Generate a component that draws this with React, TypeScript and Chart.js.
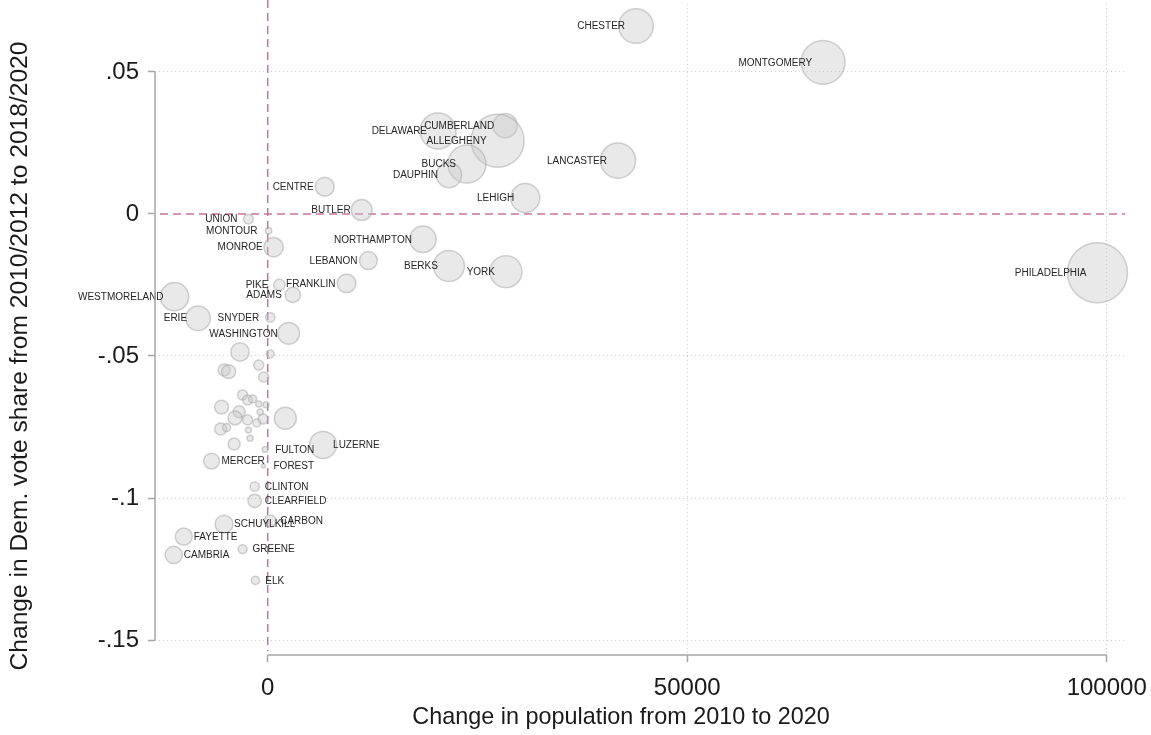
import React, { useEffect, useRef } from "react";
import { Chart, registerables } from "chart.js";

Chart.register(...registerables);

// ---- data ----
const counties = [
  "CHESTER", "MONTGOMERY", "DELAWARE", "CUMBERLAND", "ALLEGHENY", "BUCKS", "DAUPHIN",
  "LANCASTER", "LEHIGH", "CENTRE", "BUTLER", "UNION", "MONTOUR", "MONROE", "NORTHAMPTON",
  "LEBANON", "BERKS", "YORK", "PHILADELPHIA", "PIKE", "ADAMS", "FRANKLIN", "WESTMORELAND",
  "ERIE", "SNYDER", "WASHINGTON", "LUZERNE", "FULTON", "MERCER", "FOREST", "CLINTON",
  "CLEARFIELD", "SCHUYLKILL", "CARBON", "FAYETTE", "CAMBRIA", "GREENE", "ELK",
  "", "", "", "", "", "", "", "", "", "", "", "", "", "", "", "", "", "", "", "", "", "", "", "",
];

// change in population 2010 -> 2020
const popChange = [
  43900, 66200, 20300, 28300, 27400, 23750, 21600,
  41750, 30700, 6800, 11200, -2300, 100, 700, 18500,
  12000, 21600, 28400, 98900, 1400, 3000, 9400, -11100,
  -8300, 300, 2500, 6600, -300, -6700, -500, -1550,
  -1550, -5200, 300, -10000, -11200, -3000, -1470,
  -3300, 300, -5200, -4650, -1070, -480, -5500, -3000, -2400, -1800, -3400, -3900,
  -1070, -2400, -560, -5600, -4900, -2300, -2100, -4000, 2100, -1300, -200, -900,
];

// change in Democratic vote share
const voteChange = [
  0.0662, 0.0534, 0.0292, 0.0311, 0.0258, 0.0176, 0.0137,
  0.0188, 0.0056, 0.0096, 0.0014, -0.0018, -0.0059, -0.0117, -0.0089,
  -0.0164, -0.0183, -0.0203, -0.0207, -0.025, -0.0285, -0.0244, -0.0291,
  -0.0367, -0.0364, -0.042, -0.0813, -0.0829, -0.087, -0.0887, -0.096,
  -0.101, -0.1092, -0.1081, -0.1136, -0.12, -0.118, -0.129,
  -0.0486, -0.0493, -0.0549, -0.0555, -0.0532, -0.0574, -0.068, -0.0637, -0.0655, -0.0651, -0.0696, -0.0718,
  -0.0669, -0.0725, -0.0722, -0.0757, -0.0752, -0.0761, -0.079, -0.081, -0.0719, -0.0736, -0.0672, -0.0697,
];

// county population (thousands) used as bubble weight
const population = [
  534, 856, 576, 260, 1250, 646, 286,
  552, 374, 158, 194, 43, 18, 168, 312,
  143, 428, 456, 1603, 58, 104, 155, 355,
  270, 40, 210, 325, 14.5, 110, 7, 38,
  80, 143, 64, 129, 133, 36, 30,
  150, 28, 64, 87, 45, 45, 87, 45, 45, 28, 64, 87,
  16, 45, 45, 64, 28, 16, 16, 64, 215, 28, 16, 16,
];

// label side: "L" = left of marker (clock 9), "R" = right (clock 3)
const labelSide = [
  "L", "L", "L", "L", "L", "L", "L",
  "L", "L", "L", "L", "L", "L", "L", "L",
  "L", "L", "L", "L", "L", "L", "L", "L",
  "L", "L", "L", "R", "R", "R", "R", "R",
  "R", "R", "R", "R", "R", "R", "R",
];

const xTicks = [0, 50000, 100000];
const yTicks = [0.05, 0, -0.05, -0.1, -0.15];
const yTickLabels = [".05", "0", "-.05", "-.1", "-.15"];
const xTitle = "Change in population from 2010 to 2020";
const yTitle = "Change in Dem. vote share from 2010/2012 to 2018/2020";

const FONT = "'Liberation Sans', Arial, sans-serif";

const overlay = {
  id: "overlay",
  beforeDatasetsDraw(chart: any) {
    const { ctx, chartArea, scales } = chart;
    const x0 = scales.x.getPixelForValue(0);
    const y0 = scales.y.getPixelForValue(0);
    ctx.save();
    ctx.strokeStyle = "rgba(190,88,145,0.85)";
    ctx.lineWidth = 1.5;
    ctx.setLineDash([8, 5]);
    ctx.beginPath();
    ctx.moveTo(x0, 0);
    ctx.lineTo(x0, chartArea.bottom - 4);
    ctx.moveTo(chartArea.left + 5, y0);
    ctx.lineTo(chartArea.right, y0);
    ctx.stroke();
    ctx.restore();
  },
  afterDatasetsDraw(chart: any) {
    const { ctx } = chart;
    const meta = chart.getDatasetMeta(0);
    ctx.save();
    ctx.font = `10px ${FONT}`;
    ctx.fillStyle = "#262626";
    ctx.textBaseline = "middle";
    counties.forEach((name, i) => {
      if (!name) return;
      const el = meta.data[i];
      if (!el) return;
      if (labelSide[i] === "R") {
        ctx.textAlign = "left";
        ctx.fillText(name, el.x + 10, el.y + 0.5);
      } else {
        ctx.textAlign = "right";
        ctx.fillText(name, el.x - 11, el.y + 0.5);
      }
    });
    ctx.restore();
  },
  afterDraw(chart: any) {
    const { ctx, chartArea, scales } = chart;
    const xs = scales.x;
    const ys = scales.y;
    ctx.save();
    ctx.strokeStyle = "#a6a6a6";
    ctx.lineWidth = 1.5;
    ctx.setLineDash([]);
    ctx.beginPath();
    ctx.moveTo(chartArea.left, ys.getPixelForValue(yTicks[0]));
    ctx.lineTo(chartArea.left, ys.getPixelForValue(yTicks[yTicks.length - 1]));
    ctx.moveTo(xs.getPixelForValue(xTicks[0]), chartArea.bottom);
    ctx.lineTo(xs.getPixelForValue(xTicks[xTicks.length - 1]), chartArea.bottom);
    ctx.stroke();

    ctx.fillStyle = "#1a1a1a";
    ctx.textAlign = "center";
    ctx.textBaseline = "alphabetic";
    ctx.font = `23.4px ${FONT}`;
    ctx.fillText(xTitle, 621, 724);

    ctx.font = `24.6px ${FONT}`;
    ctx.translate(27, (ys.getPixelForValue(yTicks[0]) + ys.getPixelForValue(yTicks[yTicks.length - 1])) / 2);
    ctx.rotate(-Math.PI / 2);
    ctx.fillText(yTitle, 0, 0);
    ctx.restore();
  },
};

export default function App() {
  const ref = useRef<HTMLCanvasElement | null>(null);

  useEffect(() => {
    if (!ref.current) return;
    const points = popChange.map((x, i) => ({
      x,
      y: voteChange[i],
      r: 30 * Math.sqrt(population[i] / 1603),
    }));
    const gridColor = (c: any) =>
      c.tick && c.tick.value === 0 ? "rgba(0,0,0,0)" : "#cfcfcf";
    const noEdgePadding = (s: any) => {
      s.paddingTop = 0;
      s.paddingBottom = 0;
      s.paddingLeft = 0;
      s.paddingRight = 0;
    };
    const chart = new Chart(ref.current, {
      type: "bubble",
      data: {
        datasets: [
          {
            data: points,
            backgroundColor: "rgba(200,200,200,0.4)",
            borderColor: "rgba(165,165,165,0.5)",
            borderWidth: 1.5,
            clip: false,
          } as any,
        ],
      },
      options: {
        responsive: false,
        animation: false,
        devicePixelRatio: 1,
        events: [],
        layout: { autoPadding: false, padding: { top: 4, right: 26, left: 0, bottom: 0 } },
        plugins: { legend: { display: false }, tooltip: { enabled: false } },
        scales: {
          x: {
            type: "linear",
            position: "bottom",
            min: -13433,
            max: 102181,
            afterBuildTicks: (s: any) => {
              s.ticks = xTicks.map((v) => ({ value: v }));
            },
            afterFit: (s: any) => {
              s.height = 80;
              noEdgePadding(s);
            },
            grid: {
              color: gridColor,
              lineWidth: 1,
              drawTicks: true,
              tickLength: 7,
              tickWidth: 1.5,
              tickColor: "#a6a6a6",
              tickBorderDash: [],
            },
            border: { display: false, dash: [1, 3] },
            ticks: {
              font: { family: FONT, size: 24 },
              color: "#1a1a1a",
              padding: 12,
              maxRotation: 0,
              autoSkip: false,
              callback: (v: any) => String(v),
            },
          },
          y: {
            type: "linear",
            position: "left",
            min: -0.15528,
            max: 0.07394,
            afterBuildTicks: (s: any) => {
              s.ticks = yTicks.map((v) => ({ value: v }));
            },
            afterFit: (s: any) => {
              s.width = 155;
              noEdgePadding(s);
            },
            grid: {
              color: gridColor,
              lineWidth: 1,
              drawTicks: true,
              tickLength: 7,
              tickWidth: 1.5,
              tickColor: "#a6a6a6",
              tickBorderDash: [],
            },
            border: { display: false, dash: [1, 3] },
            ticks: {
              font: { family: FONT, size: 24 },
              color: "#1a1a1a",
              padding: 9,
              autoSkip: false,
              callback: (_v: any, i: number) => yTickLabels[i],
            },
          },
        },
      } as any,
      plugins: [overlay],
    });
    return () => chart.destroy();
  }, []);

  return (
    <div style={{ position: "absolute", left: 0, top: 0, width: 1151, height: 735, background: "#fff" }}>
      <canvas ref={ref} width={1151} height={735} />
    </div>
  );
}
